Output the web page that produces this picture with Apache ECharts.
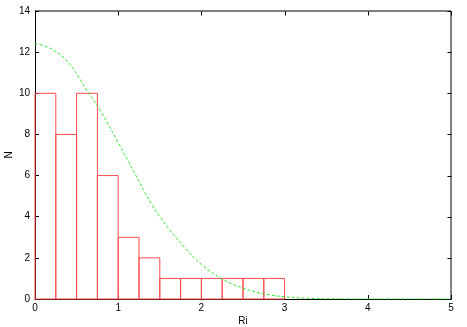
<!DOCTYPE html>
<html>
<head>
<meta charset="utf-8">
<script src="https://cdn.jsdelivr.net/npm/echarts@6/dist/echarts.min.js"></script>
<style>html,body{margin:0;padding:0;background:#fff}#c{width:467px;height:327px}</style>
</head>
<body>
<div id="c"></div>
<script>
// Histogram bins (start, end) and counts
var binStart = [0, 0.25, 0.5, 0.75, 1.0, 1.25, 1.5, 1.75, 2.0, 2.25, 2.5, 2.75];
var binEnd   = [0.25, 0.5, 0.75, 1.0, 1.25, 1.5, 1.75, 2.0, 2.25, 2.5, 2.75, 3.0];
var counts   = [10, 8, 10, 6, 3, 2, 1, 1, 1, 1, 1, 1];

// Fitted curve
var curveX = [0, 0.2, 0.4, 0.6, 0.8, 1.0, 1.2, 1.4, 1.6, 1.8, 2.0, 2.25, 2.5, 2.75, 3.0, 3.25, 3.5, 4.0, 4.5, 5.0];
var curveY = [12.43, 12.15, 11.5, 10.3, 9.05, 7.6, 6.1, 4.62, 3.46, 2.5, 1.68, 0.97, 0.53, 0.25, 0.11, 0.04, 0.01, 0, 0, 0];

// Tick labels
var xTicks = ['0', '1', '2', '3', '4', '5'];
var yTicks = ['0', '2', '4', '6', '8', '10', '12', '14'];

// Plot frame (top and right edges in data units: axis extents)
var frameX = [0, 5, 5];
var frameY = [14, 14, 0];

var histData = binStart.map(function (s, i) { return [s, binEnd[i], counts[i]]; });
var curveData = curveX.map(function (x, i) { return [x, curveY[i]]; });
var frameData = frameX.map(function (x, i) { return [x, frameY[i]]; });

var font = 'Liberation Sans, Arial, sans-serif';
var chart = echarts.init(document.getElementById('c'), null, {renderer: 'canvas'});
var axisLine = {show: true, onZero: false, lineStyle: {color: '#000', width: 1}};
var tick = {show: true, inside: true, length: 4, lineStyle: {color: '#000'}};
chart.setOption({
  animation: false,
  grid: {left: 35, right: 16, top: 11, bottom: 28, containLabel: false, outerBoundsMode: 'none'},
  xAxis: {
    type: 'value', min: 0, max: 5, interval: 1,
    name: 'Ri', nameLocation: 'middle', nameGap: 17, nameMoveOverlap: false,
    nameTextStyle: {fontFamily: font, fontSize: 10, color: '#000'},
    axisLine: axisLine, axisTick: tick,
    axisLabel: {fontFamily: font, fontSize: 10, color: '#000', margin: 4,
      formatter: function (v) { return xTicks[Math.round(v)]; }},
    splitLine: {show: false}
  },
  yAxis: {
    type: 'value', min: 0, max: 14, interval: 2,
    name: 'N', nameLocation: 'middle', nameGap: 21, nameRotate: 90, nameMoveOverlap: false,
    nameTextStyle: {fontFamily: font, fontSize: 10, color: '#000'},
    axisLine: axisLine, axisTick: tick,
    axisLabel: {fontFamily: font, fontSize: 10, color: '#000', margin: 5,
      formatter: function (v) { return yTicks[Math.round(v / 2)]; }},
    splitLine: {show: false}
  },
  series: [{
    type: 'line',
    data: frameData,
    clip: false,
    silent: true,
    showSymbol: false,
    lineStyle: {color: '#000', width: 1},
    z: 1
  }, {
    // mirrored inward ticks on top and right edges
    type: 'custom',
    data: [[0, 0]],
    clip: false,
    silent: true,
    renderItem: function (params, api) {
      var cs = params.coordSys;
      var y0 = Math.round(cs.y) + 0.5, x1 = Math.round(cs.x + cs.width) + 0.5;
      var children = [];
      xTicks.forEach(function (t) {
        var px = Math.round(api.coord([Number(t), 0])[0]) + 0.5;
        children.push({type: 'line', shape: {x1: px, y1: y0, x2: px, y2: y0 + 4}, style: {stroke: '#000', lineWidth: 1}});
      });
      yTicks.forEach(function (t) {
        var py = Math.round(api.coord([0, Number(t)])[1]) + 0.5;
        children.push({type: 'line', shape: {x1: x1, y1: py, x2: x1 - 4, y2: py}, style: {stroke: '#000', lineWidth: 1}});
      });
      return {type: 'group', children: children};
    },
    z: 1
  }, {
    type: 'custom',
    data: histData,
    encode: {x: [0, 1], y: 2},
    renderItem: function (params, api) {
      var p0 = api.coord([api.value(0), 0]);
      var p1 = api.coord([api.value(1), api.value(2)]);
      return {
        type: 'rect',
        shape: {x: p0[0], y: p1[1], width: p1[0] - p0[0], height: p0[1] - p1[1]},
        style: {fill: 'none', stroke: '#ff4a4a', lineWidth: 1}
      };
    },
    z: 3
  }, {
    type: 'line',
    data: curveData,
    smooth: 0.4,
    showSymbol: false,
    lineStyle: {color: '#33e633', width: 1, type: [3, 2]},
    z: 4
  }]
});
</script>
</body>
</html>
